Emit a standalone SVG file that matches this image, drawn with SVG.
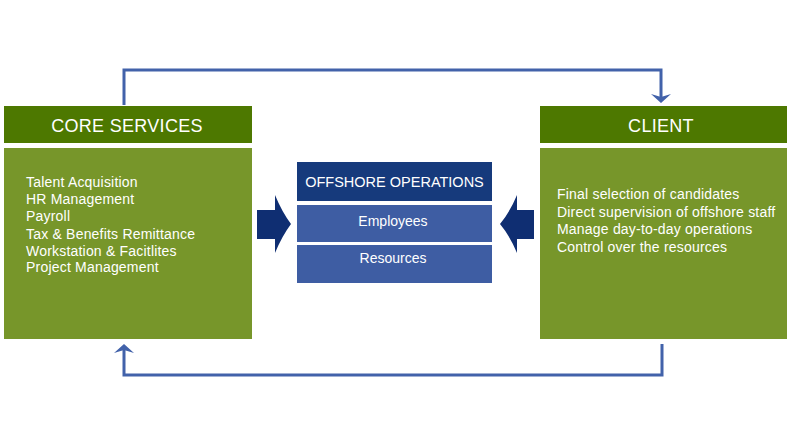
<svg xmlns="http://www.w3.org/2000/svg" width="794" height="443" viewBox="0 0 794 443">
<defs>
<style>
.hdr{fill:#4D7800}
.body{fill:#77962A}
.t{font-family:"Liberation Sans",Arial,sans-serif;fill:#fff}
.h{font-size:18px;text-anchor:middle;letter-spacing:0.3px}
.b{font-size:14px;letter-spacing:0.2px}
.oh{fill:#163A7C}
.row{fill:#3E5DA3}
.conn{fill:none;stroke:#4262AA;stroke-width:3}
.ah{fill:#4262AA}
.ba{fill:#0F2E72}
</style>
</defs>
<rect width="794" height="443" fill="#fff"/>
<g id="core">
<rect class="hdr" x="4" y="106" width="248" height="37"/>
<rect class="body" x="4" y="148" width="248" height="191"/>
<text class="t h" x="127" y="132">CORE SERVICES</text>
<text class="t b" x="26" y="187">Talent Acquisition</text>
<text class="t b" x="26" y="204">HR Management</text>
<text class="t b" x="26" y="221">Payroll</text>
<text class="t b" x="26" y="239">Tax &amp; Benefits Remittance</text>
<text class="t b" x="26" y="256">Workstation &amp; Facitlites</text>
<text class="t b" x="26" y="272">Project Management</text>
</g>
<g id="client">
<rect class="hdr" x="540" y="106" width="247" height="37"/>
<rect class="body" x="540" y="148" width="247" height="191"/>
<text class="t h" x="661" y="132">CLIENT</text>
<text class="t b" x="557" y="199">Final selection of candidates</text>
<text class="t b" x="557" y="217">Direct supervision of offshore staff</text>
<text class="t b" x="557" y="234">Manage day-to-day operations</text>
<text class="t b" x="557" y="252">Control over the resources</text>
</g>
<g id="offshore">
<rect class="oh" x="297" y="162" width="195" height="39"/>
<rect class="row" x="297" y="205" width="195" height="37"/>
<rect class="row" x="297" y="245" width="195" height="38"/>
<text class="t" x="394.5" y="187" font-size="14.5" text-anchor="middle">OFFSHORE OPERATIONS</text>
<text class="t" x="393" y="226" font-size="14" text-anchor="middle">Employees</text>
<text class="t" x="393" y="263" font-size="14" text-anchor="middle">Resources</text>
</g>
<g id="arrow-left">
<path class="ba" d="M257,210 L275,210 L275,195 Q282,212 291,224 Q282,236 275,253 L275,239 L257,239 Z"/>
</g>
<g id="arrow-right">
<path class="ba" d="M534,210 L517,210 L517,195 Q510,212 500,224 Q510,236 517,253 L517,239 L534,239 Z"/>
</g>
<g id="connectors">
<polyline class="conn" points="124,105 124,70 661,70 661,97"/>
<path class="ah" d="M651,94 L661,103 L671,94 L661,97 Z"/>
<polyline class="conn" points="662,344 662,375 124,375 124,350"/>
<path class="ah" d="M114,353 L124,344 L134,353 L124,350 Z"/>
</g>
</svg>
